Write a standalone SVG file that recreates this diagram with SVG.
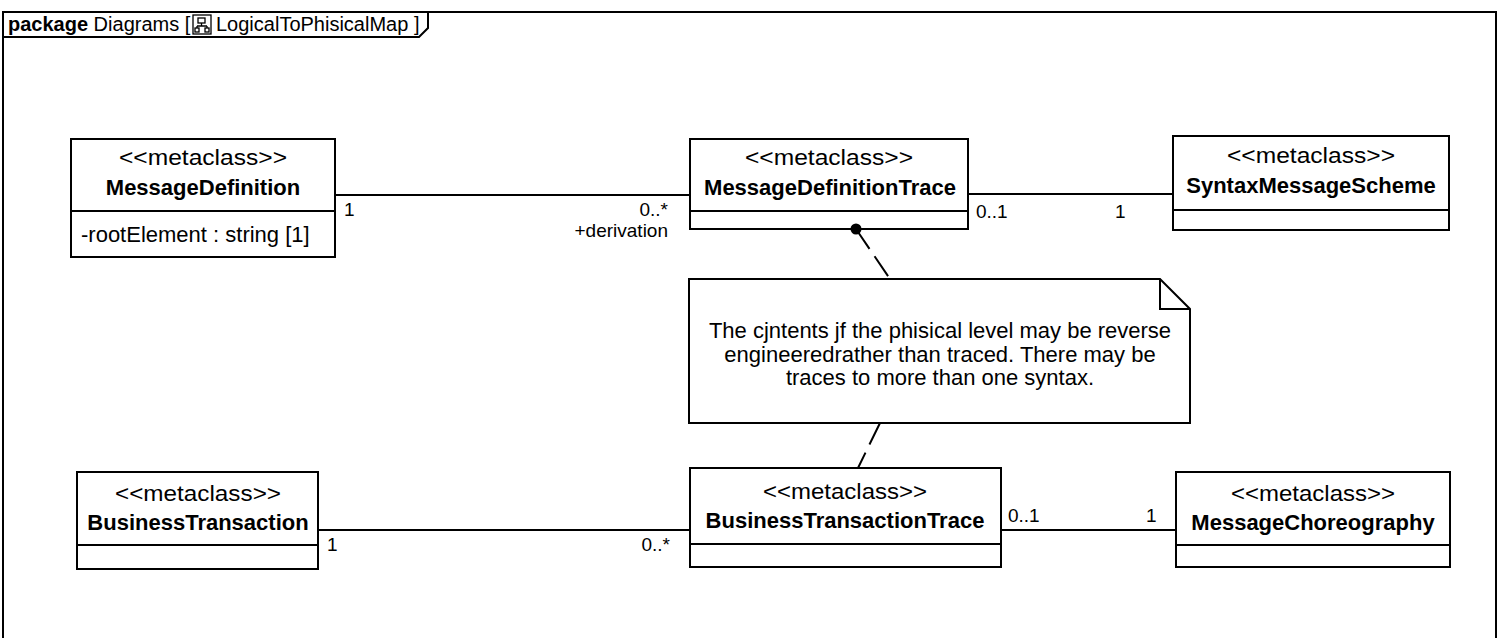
<svg xmlns="http://www.w3.org/2000/svg" width="1500" height="638" viewBox="0 0 1500 638">
<style>
.box{fill:#fff;stroke:#000;stroke-width:2}
.ln{fill:none;stroke:#000;stroke-width:2}
.dash{fill:none;stroke:#000;stroke-width:2;stroke-dasharray:24 9}
text{font-family:"Liberation Sans",Arial,sans-serif;fill:#000}
.st{font-size:22px;text-anchor:middle}
.nm{font-size:22px;font-weight:bold;text-anchor:middle}
.mul{font-size:19px}
.att{font-size:22px}
.note{font-size:22px;text-anchor:middle}
.ttl{font-size:20px}
</style>
<rect width="1500" height="638" fill="#fff"/>
<g id="frame">
<path class="ln" d="M3,660 L3,12 L1496,12 L1496,660"/>
<path class="ln" d="M3,37 L419,37 L428,28 L428,12"/>
<text class="ttl" x="8" y="31"><tspan font-weight="bold">package</tspan> Diagrams [</text>
<g id="icon" fill="none" stroke="#000" stroke-width="1.3">
<rect x="193" y="15" width="18" height="19" fill="#fff"/>
<rect x="198" y="18" width="7" height="5"/>
<path d="M201.5,23 V26 M197,26 H207 M197,26 V28 M207,26 V28"/>
<rect x="195" y="28" width="4" height="4"/>
<rect x="205" y="28" width="4" height="4"/>
</g>
<text class="ttl" x="216" y="31">LogicalToPhisicalMap ]</text>
</g>
<g id="MessageDefinition">
<rect class="box" x="71" y="139" width="264" height="118"/>
<line class="ln" x1="71" y1="211" x2="335" y2="211"/>
<text class="st" x="203" y="165" textLength="168" lengthAdjust="spacingAndGlyphs">&lt;&lt;metaclass&gt;&gt;</text>
<text class="nm" x="203" y="195">MessageDefinition</text>
<text class="att" x="81" y="242">-rootElement : string [1]</text>
</g>
<g id="MessageDefinitionTrace">
<rect class="box" x="690" y="139" width="278" height="90"/>
<line class="ln" x1="690" y1="211" x2="968" y2="211"/>
<text class="st" x="829" y="165" textLength="168" lengthAdjust="spacingAndGlyphs">&lt;&lt;metaclass&gt;&gt;</text>
<text class="nm" x="830" y="195">MessageDefinitionTrace</text>
</g>
<g id="SyntaxMessageScheme">
<rect class="box" x="1173" y="136" width="276" height="94"/>
<line class="ln" x1="1173" y1="210" x2="1449" y2="210"/>
<text class="st" x="1311" y="163" textLength="168" lengthAdjust="spacingAndGlyphs">&lt;&lt;metaclass&gt;&gt;</text>
<text class="nm" x="1311" y="193">SyntaxMessageScheme</text>
</g>
<g id="note">
<path class="box" d="M689,279 L1160,279 L1190,309 L1190,423 L689,423 Z"/>
<path class="ln" d="M1160,279 L1160,309 L1190,309"/>
<text class="note" x="940" y="338">The cjntents jf the phisical level may be reverse</text>
<text class="note" x="940" y="362">engineeredrather than traced. There may be</text>
<text class="note" x="940" y="385">traces to more than one syntax.</text>
</g>
<g id="BusinessTransaction">
<rect class="box" x="77" y="472" width="241" height="97"/>
<line class="ln" x1="77" y1="545" x2="318" y2="545"/>
<text class="st" x="198" y="501" textLength="166" lengthAdjust="spacingAndGlyphs">&lt;&lt;metaclass&gt;&gt;</text>
<text class="nm" x="198" y="530">BusinessTransaction</text>
</g>
<g id="BusinessTransactionTrace">
<rect class="box" x="690" y="468" width="311" height="99"/>
<line class="ln" x1="690" y1="544" x2="1001" y2="544"/>
<text class="st" x="845" y="499" textLength="164" lengthAdjust="spacingAndGlyphs">&lt;&lt;metaclass&gt;&gt;</text>
<text class="nm" x="845" y="528">BusinessTransactionTrace</text>
</g>
<g id="MessageChoreography">
<rect class="box" x="1176" y="472" width="274" height="95"/>
<line class="ln" x1="1176" y1="545" x2="1450" y2="545"/>
<text class="st" x="1313" y="501" textLength="164" lengthAdjust="spacingAndGlyphs">&lt;&lt;metaclass&gt;&gt;</text>
<text class="nm" x="1313" y="530">MessageChoreography</text>
</g>
<g id="connectors">
<line class="ln" x1="335" y1="195" x2="690" y2="195"/>
<line class="ln" x1="968" y1="194" x2="1173" y2="194"/>
<line class="ln" x1="318" y1="530" x2="690" y2="530"/>
<line class="ln" x1="1001" y1="530" x2="1176" y2="530"/>
<line class="dash" x1="856" y1="229" x2="890" y2="279"/>
<line class="dash" x1="880" y1="423" x2="858" y2="468"/>
<circle cx="856" cy="229" r="5.5" fill="#000"/>
<text class="mul" x="344" y="216">1</text>
<text class="mul" x="668" y="216" text-anchor="end">0..*</text>
<text class="mul" x="668" y="237" text-anchor="end">+derivation</text>
<text class="mul" x="976" y="218">0..1</text>
<text class="mul" x="1115" y="218">1</text>
<text class="mul" x="327" y="551">1</text>
<text class="mul" x="670" y="551" text-anchor="end">0..*</text>
<text class="mul" x="1008" y="522">0..1</text>
<text class="mul" x="1146" y="522">1</text>
</g>
</svg>
